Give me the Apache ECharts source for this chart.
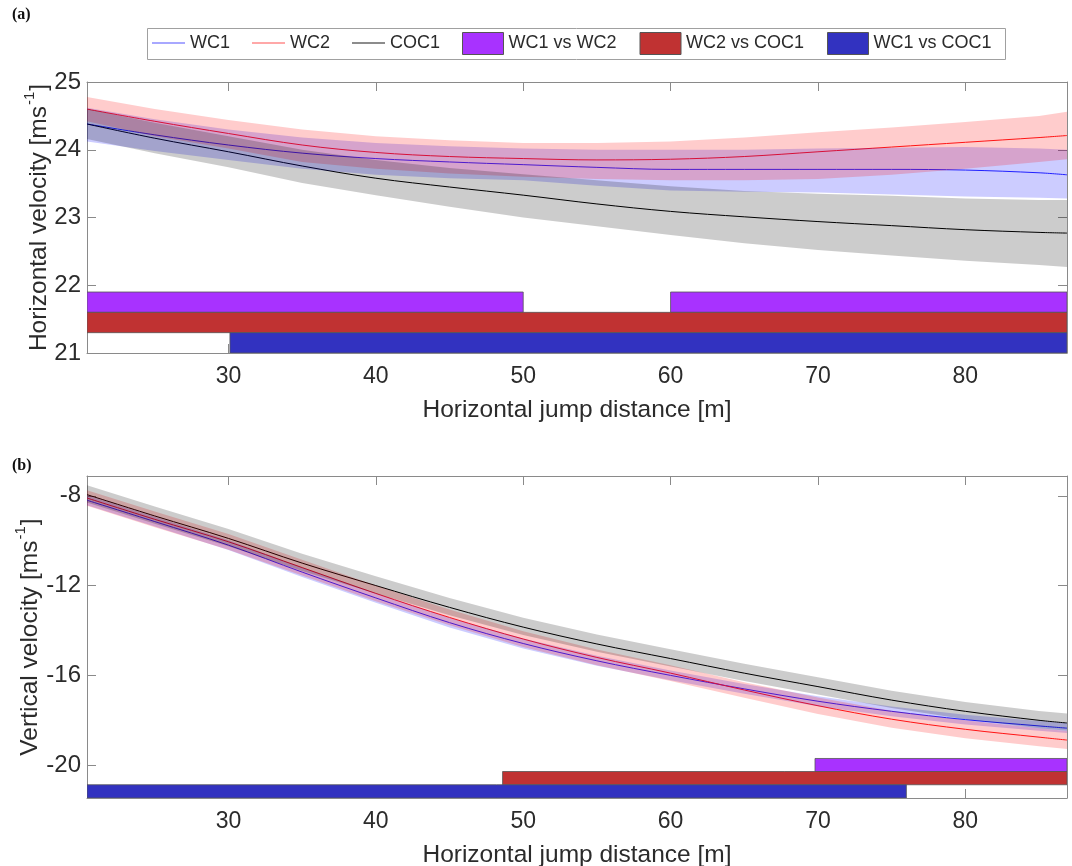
<!DOCTYPE html>
<html><head><meta charset="utf-8">
<script src="https://cdn.jsdelivr.net/npm/echarts@6/dist/echarts.min.js"></script>
<style>html,body{margin:0;padding:0;background:#fff}#c{width:1072px;height:866px}</style>
</head><body><div id="c"></div>
<script>
// ---------- data ----------
const xs = [20.4, 25, 30, 35, 40, 45, 50, 55, 60, 65, 70, 75, 80, 85, 86.9];
const xTicks = [30, 40, 50, 60, 70, 80];

// (a) horizontal velocity
const hWC1   = [24.38, 24.22, 24.07, 23.95, 23.87, 23.82, 23.78, 23.74, 23.71, 23.71, 23.71, 23.71, 23.70, 23.66, 23.63];
const hWC1Lo = [24.12, 23.98, 23.85, 23.72, 23.63, 23.58, 23.55, 23.47, 23.40, 23.38, 23.37, 23.34, 23.31, 23.29, 23.28];
const hWC1Hi = [24.62, 24.45, 24.30, 24.18, 24.10, 24.05, 24.02, 24.00, 24.00, 24.00, 24.02, 24.03, 24.04, 24.02, 24.00];
const hWC2   = [24.60, 24.42, 24.24, 24.07, 23.96, 23.90, 23.87, 23.85, 23.86, 23.90, 23.97, 24.04, 24.11, 24.18, 24.21];
const hWC2Lo = [24.42, 24.20, 24.02, 23.82, 23.72, 23.65, 23.60, 23.57, 23.55, 23.55, 23.57, 23.63, 23.72, 23.82, 23.86];
const hWC2Hi = [24.78, 24.60, 24.44, 24.30, 24.20, 24.14, 24.10, 24.10, 24.12, 24.18, 24.26, 24.33, 24.41, 24.50, 24.56];
const hCOC1   = [24.38, 24.17, 23.97, 23.76, 23.58, 23.45, 23.33, 23.20, 23.09, 23.01, 22.94, 22.88, 22.82, 22.78, 22.77];
const hCOC1Lo = [24.16, 23.95, 23.74, 23.51, 23.33, 23.16, 23.00, 22.87, 22.74, 22.62, 22.52, 22.44, 22.36, 22.30, 22.27];
const hCOC1Hi = [24.60, 24.40, 24.20, 24.00, 23.85, 23.73, 23.64, 23.55, 23.46, 23.39, 23.35, 23.32, 23.28, 23.26, 23.26];
const hYTicks = [21, 22, 23, 24, 25];
// significance bars: [xStart, xEnd, yLow, yHigh]
const hBarWC1vsWC2  = [[20.4, 50, 21.6, 21.9], [60, 86.9, 21.6, 21.9]];
const hBarWC2vsCOC1 = [[20.4, 86.9, 21.3, 21.6]];
const hBarWC1vsCOC1 = [[30.1, 86.9, 21.0, 21.3]];

// (b) vertical velocity
const vWC1   = [-8.20, -9.15, -10.20, -11.40, -12.55, -13.65, -14.58, -15.35, -16.00, -16.60, -17.15, -17.60, -17.97, -18.25, -18.35];
const vWC1Lo = [-8.42, -9.37, -10.42, -11.62, -12.77, -13.87, -14.80, -15.57, -16.22, -16.82, -17.37, -17.82, -18.19, -18.47, -18.57];
const vWC1Hi = [-7.98, -8.93, -9.98, -11.18, -12.33, -13.43, -14.36, -15.13, -15.78, -16.38, -16.93, -17.38, -17.75, -18.03, -18.13];
const vWC2   = [-8.10, -9.05, -10.05, -11.20, -12.35, -13.42, -14.38, -15.20, -15.90, -16.65, -17.35, -17.95, -18.40, -18.75, -18.88];
const vWC2Lo = [-8.45, -9.40, -10.40, -11.55, -12.70, -13.77, -14.73, -15.55, -16.25, -17.00, -17.72, -18.33, -18.80, -19.15, -19.28];
const vWC2Hi = [-7.75, -8.70, -9.70, -10.85, -12.00, -13.07, -14.03, -14.85, -15.55, -16.30, -16.98, -17.57, -18.00, -18.35, -18.48];
const vCOC1   = [-7.95, -8.90, -9.90, -11.00, -12.00, -12.97, -13.85, -14.60, -15.25, -15.90, -16.50, -17.10, -17.60, -18.00, -18.12];
const vCOC1Lo = [-8.30, -9.25, -10.25, -11.35, -12.35, -13.32, -14.20, -14.95, -15.60, -16.25, -16.85, -17.45, -17.95, -18.35, -18.47];
const vCOC1Hi = [-7.53, -8.48, -9.48, -10.58, -11.58, -12.55, -13.43, -14.18, -14.83, -15.48, -16.08, -16.68, -17.18, -17.58, -17.70];
const vYTicks = [-20, -16, -12, -8];
const vBarWC1vsWC2  = [[69.8, 86.9, -20.28, -19.70]];
const vBarWC2vsCOC1 = [[48.6, 86.9, -20.87, -20.28]];
const vBarWC1vsCOC1 = [[20.4, 76.0, -21.46, -20.87]];

// ---------- styling ----------
const FONT = 'Liberation Sans, Arial, sans-serif';
const TXT = '#2b2b2b';
const AXC = '#8a8a8a';
const C = {
  WC1: '#2a2aff', WC2: '#ff1a1a', COC1: '#000000',
  WC1band: 'rgba(0,0,255,0.2)', WC2band: 'rgba(255,0,0,0.2)', COC1band: 'rgba(0,0,0,0.2)',
  b12: '#a832ff', b2c: '#c03232', b1c: '#3232c0'
};

const chart = echarts.init(document.getElementById('c'), null, {renderer: 'canvas'});

function pairs(arr) { return xs.map((x, i) => [x, arr[i]]); }

function band(ax, lo, hi, color) {
  return {
    type: 'custom', xAxisIndex: ax, yAxisIndex: ax, clip: true, silent: true, z: 3,
    data: [[xs[0], lo[0]]],
    encode: {x: 0, y: 1},
    renderItem: function (params, api) {
      const pts = [];
      for (let i = 0; i < xs.length; i++) pts.push(api.coord([xs[i], hi[i]]));
      for (let i = xs.length - 1; i >= 0; i--) pts.push(api.coord([xs[i], lo[i]]));
      return {type: 'polygon', shape: {points: pts}, style: {fill: color}};
    }
  };
}
function line(ax, name, arr, color) {
  return {
    type: 'line', name: name, xAxisIndex: ax, yAxisIndex: ax, data: pairs(arr),
    showSymbol: false, smooth: 0.35, z: 2, silent: true,
    lineStyle: {color: color, width: 1}, itemStyle: {color: color}
  };
}
function bars(ax, name, rows, color) {
  return {
    type: 'custom', name: name, xAxisIndex: ax, yAxisIndex: ax, clip: true, silent: true, z: 4,
    data: rows, encode: {x: [0, 1], y: [2, 3]},
    itemStyle: {color: color, borderColor: '#4a4a4a', borderWidth: 1},
    renderItem: function (params, api) {
      const a = api.coord([api.value(0), api.value(3)]);
      const b = api.coord([api.value(1), api.value(2)]);
      return {type: 'rect', shape: {x: a[0], y: a[1], width: b[0] - a[0], height: b[1] - a[1]},
        style: {fill: color, stroke: '#555', lineWidth: 0.8}};
    }
  };
}

function xAx(gi, pos, withName) {
  const o = {
    type: 'value', gridIndex: gi, position: pos, min: 20.4, max: 86.9,
    axisLine: {show: true, onZero: false, lineStyle: {color: AXC, width: 1}},
    axisTick: {show: true, inside: true, length: 9, customValues: xTicks, lineStyle: {color: AXC}},
    axisLabel: {show: pos === 'bottom', customValues: xTicks, fontSize: 23, color: TXT, fontFamily: FONT, margin: 12},
    splitLine: {show: false}
  };
  if (withName) {
    o.name = 'Horizontal jump distance [m]';
    o.nameLocation = 'middle';
    o.nameGap = 45;
    o.nameMoveOverlap = false;
    o.nameTextStyle = {fontSize: 24.5, color: TXT, fontFamily: FONT};
  }
  return o;
}
function yAx(gi, pos, min, max, ticks, name, gap) {
  const o = {
    type: 'value', gridIndex: gi, position: pos, min: min, max: max,
    axisLine: {show: true, onZero: false, lineStyle: {color: AXC, width: 1}},
    axisTick: {show: true, inside: true, length: 9, customValues: ticks, lineStyle: {color: AXC}},
    axisLabel: {show: pos === 'left', customValues: ticks, fontSize: 24, color: TXT, fontFamily: FONT, margin: 6},
    splitLine: {show: false}
  };
  if (name) {
    o.name = '{a|' + name + ' [ms}{s|-1}{a|]}';
    o.nameLocation = 'middle';
    o.nameRotate = 90;
    o.nameGap = gap;
    o.nameMoveOverlap = false;
    o.nameTextStyle = {
      rich: {
        a: {fontSize: 24.5, color: TXT, fontFamily: FONT, lineHeight: 30, verticalAlign: 'bottom'},
        s: {fontSize: 15, color: TXT, fontFamily: FONT, lineHeight: 30, verticalAlign: 'top', padding: [0, 1, 0, 1]}
      }
    };
  }
  return o;
}

const option = {
  backgroundColor: '#fff',
  animation: false,
  grid: [
    {left: 87, top: 82, width: 980, height: 271, outerBoundsMode: 'none', containLabel: false},
    {left: 87, top: 476, width: 980, height: 322, outerBoundsMode: 'none', containLabel: false}
  ],
  xAxis: [xAx(0, 'bottom', true), xAx(0, 'top', false), xAx(1, 'bottom', true), xAx(1, 'top', false)],
  yAxis: [
    yAx(0, 'left', 21, 25, hYTicks, 'Horizontal velocity', 35),
    yAx(0, 'right', 21, 25, hYTicks, null),
    yAx(1, 'left', -21.46, -7.12, vYTicks, 'Vertical velocity', 44),
    yAx(1, 'right', -21.46, -7.12, vYTicks, null)
  ],
  legend: [
    {
      selectedMode: false, left: 152, top: 34, padding: 0, itemGap: 22, z: 10,
      icon: 'rect', itemWidth: 33, itemHeight: 2,
      textStyle: {fontSize: 18, color: TXT, fontFamily: FONT, padding: [0, 0, 0, 0]},
      data: [
        {name: 'WC1', itemStyle: {color: '#a8a8ff'}},
        {name: 'WC2', itemStyle: {color: '#ffa8a8'}},
        {name: 'COC1', itemStyle: {color: '#8c8c8c'}}
      ]
    },
    {
      selectedMode: false, left: 462, top: 32, padding: 0, itemGap: 23, z: 10,
      icon: 'rect', itemWidth: 41, itemHeight: 22,
      itemStyle: {borderColor: '#555', borderWidth: 1},
      textStyle: {fontSize: 18, color: TXT, fontFamily: FONT},
      data: ['WC1 vs WC2', 'WC2 vs COC1', 'WC1 vs COC1']
    }
  ],
  graphic: [
    {type: 'rect', left: 147, top: 28, z: 0, shape: {width: 858, height: 31},
      style: {fill: '#fff', stroke: '#a0a0a0', lineWidth: 1}},
    {type: 'text', left: 12, top: 7, style: {text: '(a)', font: 'bold 16px "Liberation Serif", serif', fill: '#111'}},
    {type: 'text', left: 12, top: 458, style: {text: '(b)', font: 'bold 16px "Liberation Serif", serif', fill: '#111'}}
  ],
  series: [
    line(0, 'WC1', hWC1, C.WC1),
    line(0, 'WC2', hWC2, C.WC2),
    line(0, 'COC1', hCOC1, C.COC1),
    band(0, hWC1Lo, hWC1Hi, C.WC1band),
    band(0, hWC2Lo, hWC2Hi, C.WC2band),
    band(0, hCOC1Lo, hCOC1Hi, C.COC1band),
    bars(0, 'WC1 vs WC2', hBarWC1vsWC2, C.b12),
    bars(0, 'WC2 vs COC1', hBarWC2vsCOC1, C.b2c),
    bars(0, 'WC1 vs COC1', hBarWC1vsCOC1, C.b1c),

    line(2, 'WC1', vWC1, C.WC1),
    line(2, 'WC2', vWC2, C.WC2),
    line(2, 'COC1', vCOC1, C.COC1),
    band(2, vWC1Lo, vWC1Hi, C.WC1band),
    band(2, vWC2Lo, vWC2Hi, C.WC2band),
    band(2, vCOC1Lo, vCOC1Hi, C.COC1band),
    bars(2, 'WC1 vs WC2', vBarWC1vsWC2, C.b12),
    bars(2, 'WC2 vs COC1', vBarWC2vsCOC1, C.b2c),
    bars(2, 'WC1 vs COC1', vBarWC1vsCOC1, C.b1c)
  ]
};
chart.setOption(option);
</script>
</body></html>
